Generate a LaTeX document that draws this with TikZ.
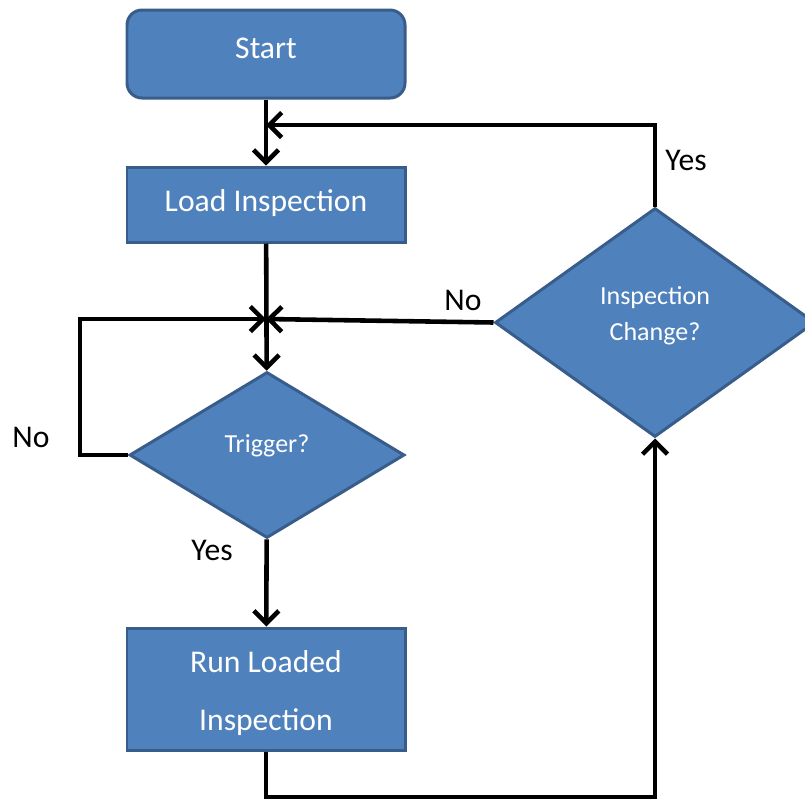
\documentclass[tikz,border=0pt]{standalone}
\usepackage{fontspec}
\setmainfont{Carlito}
\usetikzlibrary{shapes.geometric,arrows.meta}
\definecolor{boxfill}{HTML}{4F81BD}
\definecolor{boxline}{HTML}{385D8A}
\newcommand{\liftby}[2]{\raisebox{#1}[\height][\depth]{#2}}
\begin{document}
\begin{tikzpicture}[x=0.2mm, y=-0.2mm, >={Straight Barb[length=2.5mm,width=5mm]},
  block/.style={draw=boxline, fill=boxfill, line width=1.7pt, text=white,
    minimum width=5.56cm, inner sep=0pt, align=center,
    font=\fontsize{18}{33}\selectfont},
  decision/.style={diamond, draw=boxline, fill=boxfill, line width=1.7pt,
    text=white, inner sep=0pt, align=center,
    font=\fontsize{14.8}{20.5}\selectfont},
  flow/.style={line width=2.6pt},
  tag/.style={font=\fontsize{18}{20}\selectfont}]
  \useasboundingbox (0,0) rectangle (805,800);
  \node[block, rounded corners=3mm, minimum height=1.76cm] (start) at (266,54) {\liftby{3.4pt}{Start}};
  \node[block, minimum height=1.5cm] (load) at (266,204.5) {\liftby{1.1pt}{Load Inspection}};
  \node[decision, minimum width=5.5cm, minimum height=3.32cm] (trig) at (267,455) {\liftby{5pt}{Trigger?}};
  \node[block, minimum height=2.44cm] (run) at (266,689)
    {\liftby{-2.3pt}{Run Loaded}\\\liftby{-2.3pt}{Inspection}};
  \node[decision, minimum width=6.4cm, minimum height=4.58cm] (chg) at (655,322.5)
    {\liftby{3.8pt}{Inspection}\\\liftby{3.8pt}{Change?}};
  \coordinate (j1) at (266,125);
  \coordinate (j2) at (266,319);
  \coordinate (loop) at (80,455);
  \coordinate (bot) at (266,797);
  \draw[flow, ->] (start) -- (load);
  \draw[flow, ->] (chg.north) |- (j1);
  \draw[flow, ->] (load) -- (trig);
  \draw[flow, ->] (chg.west) -- (j2);
  \draw[flow, ->] (trig.west) -- (loop) |- (j2);
  \draw[flow, ->] (trig) -- (run);
  \draw[flow, ->] (run) -- (bot) -| (chg.south);
  \node[tag] (yes1) at (686,160) {Yes};
  \node[tag] (no1) at (463,300) {No};
  \node[tag] (no2) at (31,437) {No};
  \node[tag] (yes2) at (212,550) {Yes};
\end{tikzpicture}
\end{document}
